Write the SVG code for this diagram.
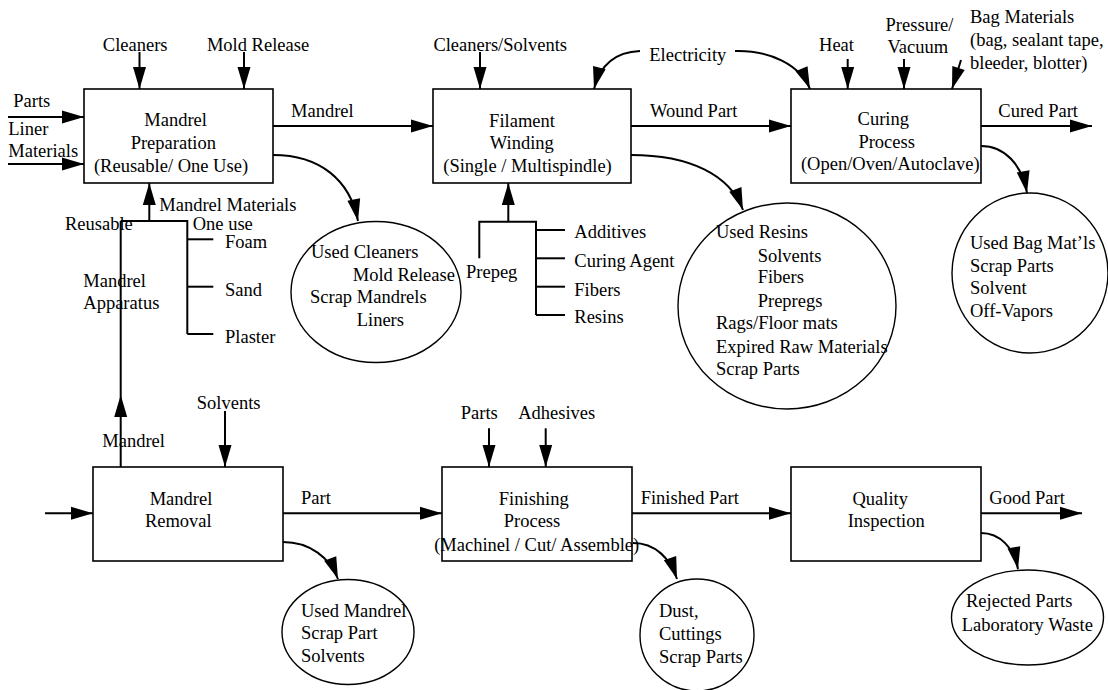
<svg xmlns="http://www.w3.org/2000/svg" width="1108" height="690" viewBox="0 0 1108 690">
<style>
text{font-family:"Liberation Serif","Times New Roman",serif;font-size:18.5px;fill:#000}
.c{text-anchor:middle}
.box{fill:#fff;stroke:#000;stroke-width:1.6}
.ell{fill:#fff;stroke:#000;stroke-width:1.4}
.ln{fill:none;stroke:#000;stroke-width:2}
.ar{fill:none;stroke:#000;stroke-width:2;marker-end:url(#ah)}
</style>
<defs>
<marker id="ah" markerUnits="userSpaceOnUse" markerWidth="22" markerHeight="13" refX="22" refY="6.5" orient="auto" overflow="visible">
<path d="M0,0 L22,6.5 L0,13 Z" fill="#000"/>
</marker>
</defs>
<rect width="1108" height="690" fill="#fff"/>

<g id="connectors">
<!-- Mandrel Preparation inputs -->
<line class="ar" x1="139.5" y1="52" x2="139.5" y2="89"/>
<line class="ar" x1="244" y1="52" x2="244" y2="89"/>
<line class="ar" x1="8" y1="117" x2="84" y2="117"/>
<line class="ar" x1="8" y1="164" x2="84" y2="164"/>
<line class="ar" x1="273" y1="126" x2="433" y2="126"/>
<path class="ar" d="M273,155 C320,155 350,180 358,221"/>
<!-- Mandrel materials tree -->
<line class="ar" x1="149.3" y1="221" x2="149.3" y2="183"/>
<polyline class="ln" points="120.7,221 187.3,221 187.3,334"/>
<line class="ln" x1="187.3" y1="239.3" x2="213.3" y2="239.3"/>
<line class="ln" x1="187.3" y1="286.7" x2="213.3" y2="286.7"/>
<line class="ln" x1="187.3" y1="334" x2="213.3" y2="334"/>
<line class="ln" x1="120.7" y1="221" x2="120.7" y2="395"/>
<line class="ar" x1="120.7" y1="467" x2="120.7" y2="395"/>
<!-- Filament Winding -->
<line class="ar" x1="480" y1="52" x2="480" y2="89"/>
<path class="ar" d="M640,51 C615,52 600,65 594,89"/>
<path class="ar" d="M735,51 C770,50 800,65 810,89"/>
<line class="ar" x1="631" y1="126" x2="791" y2="126"/>
<path class="ar" d="M631,155 C690,155 730,175 743,210"/>
<line class="ar" x1="508.3" y1="221.7" x2="508.3" y2="183"/>
<polyline class="ln" points="479.3,258.3 479.3,221.7 536,221.7 536,315"/>
<line class="ln" x1="536" y1="230" x2="565" y2="230"/>
<line class="ln" x1="536" y1="258.3" x2="565" y2="258.3"/>
<line class="ln" x1="536" y1="286.7" x2="565" y2="286.7"/>
<line class="ln" x1="536" y1="315" x2="565" y2="315"/>
<!-- Curing -->
<line class="ar" x1="847.7" y1="59" x2="847.7" y2="89"/>
<line class="ar" x1="904" y1="59" x2="904" y2="89"/>
<line class="ar" x1="961" y1="60" x2="952" y2="89"/>
<line class="ar" x1="981" y1="126" x2="1092" y2="126"/>
<path class="ar" d="M981,146 C1005,146 1022,165 1027,193"/>
<!-- Mandrel Removal -->
<line class="ar" x1="45" y1="513.3" x2="93" y2="513.3"/>
<line class="ar" x1="225" y1="411" x2="225" y2="467"/>
<line class="ar" x1="283" y1="513.3" x2="442" y2="513.3"/>
<path class="ar" d="M283,542 C310,542 330,558 338,579"/>
<!-- Finishing -->
<line class="ar" x1="489" y1="428.3" x2="489" y2="467"/>
<line class="ar" x1="545.7" y1="428.3" x2="545.7" y2="467"/>
<line class="ar" x1="632" y1="513.3" x2="791" y2="513.3"/>
<path class="ar" d="M633,543 C655,543 670,558 677,579"/>
<!-- Quality -->
<line class="ar" x1="981" y1="513.3" x2="1082" y2="513.3"/>
<path class="ar" d="M981,533 C1000,533 1014,548 1018,569"/>
</g>

<g id="labels">
<text class="c" x="135.2" y="50.7">Cleaners</text>
<text class="c" x="258" y="50.7">Mold Release</text>
<text x="13.3" y="106.7">Parts</text>
<text x="8.3" y="135">Liner</text>
<text x="8.3" y="156.7">Materials</text>
<text x="291" y="116.7">Mandrel</text>
<text x="159.3" y="210.7">Mandrel Materials</text>
<text x="65" y="230">Reusable</text>
<text x="192.7" y="230">One use</text>
<text x="225" y="248.3">Foam</text>
<text x="225" y="296">Sand</text>
<text x="225" y="343.3">Plaster</text>
<text x="83.3" y="286.7">Mandrel</text>
<text x="83.3" y="309.3">Apparatus</text>
<text class="c" x="500.2" y="50.7">Cleaners/Solvents</text>
<text x="649.3" y="61">Electricity</text>
<text x="650" y="116.7">Wound Part</text>
<text x="466" y="277.7">Prepeg</text>
<text x="574.3" y="238.3">Additives</text>
<text x="574.3" y="267.3">Curing Agent</text>
<text x="574.3" y="296">Fibers</text>
<text x="574.3" y="323.3">Resins</text>
<text class="c" x="836.5" y="50.7">Heat</text>
<text class="c" x="919.5" y="30.7">Pressure/</text>
<text class="c" x="917.8" y="53">Vacuum</text>
<text x="970" y="22.5">Bag Materials</text>
<text x="970" y="45.5">(bag, sealant tape,</text>
<text x="970" y="68.5">bleeder, blotter)</text>
<text x="998.3" y="116.7">Cured Part</text>
<text x="102.3" y="447.3">Mandrel</text>
<text class="c" x="228.7" y="409.3">Solvents</text>
<text x="301" y="504">Part</text>
<text class="c" x="479.3" y="419.3">Parts</text>
<text class="c" x="556.7" y="419.3">Adhesives</text>
<text x="640.7" y="504">Finished Part</text>
<text x="989.3" y="504">Good Part</text>
</g>

<g id="mandrel-preparation">
<rect class="box" x="84" y="89" width="189" height="94"/>
<text class="c" x="175.6" y="126">Mandrel</text>
<text class="c" x="173.3" y="149">Preparation</text>
<text class="c" x="171" y="172">(Reusable/ One Use)</text>
</g>
<g id="filament-winding">
<rect class="box" x="433" y="89" width="198" height="94"/>
<text class="c" x="522" y="126.5">Filament</text>
<text class="c" x="521.8" y="149">Winding</text>
<text class="c" x="527.5" y="171.5">(Single / Multispindle)</text>
</g>
<g id="curing-process">
<rect class="box" x="791" y="89" width="190" height="94"/>
<text class="c" x="883.3" y="125">Curing</text>
<text class="c" x="886.7" y="147.5">Process</text>
<text class="c" x="890.3" y="170">(Open/Oven/Autoclave)</text>
</g>
<g id="mandrel-removal">
<rect class="box" x="93" y="467" width="190" height="94"/>
<text class="c" x="181" y="505">Mandrel</text>
<text class="c" x="178.3" y="526.7">Removal</text>
</g>
<g id="finishing-process">
<rect class="box" x="442" y="467" width="190" height="94"/>
<text class="c" x="533.8" y="505">Finishing</text>
<text class="c" x="532" y="527">Process</text>
<text class="c" x="536.7" y="550.5">(Machinel / Cut/ Assemble)</text>
</g>
<g id="quality-inspection">
<rect class="box" x="791" y="467" width="190" height="94"/>
<text class="c" x="880.2" y="505">Quality</text>
<text class="c" x="886.2" y="527">Inspection</text>
</g>

<g id="waste-prep">
<ellipse class="ell" cx="376" cy="292" rx="85" ry="70.5"/>
<text x="311" y="258.3">Used Cleaners</text>
<text x="352.7" y="280.7">Mold Release</text>
<text x="310" y="303.3">Scrap Mandrels</text>
<text x="356.7" y="326">Liners</text>
</g>
<g id="waste-winding">
<ellipse class="ell" cx="787" cy="306" rx="109" ry="103"/>
<text x="716" y="238.3">Used Resins</text>
<text x="757.7" y="261.7">Solvents</text>
<text x="757.7" y="283.3">Fibers</text>
<text x="757.7" y="306.7">Prepregs</text>
<text x="716" y="329.3">Rags/Floor mats</text>
<text x="716" y="352.7">Expired Raw Materials</text>
<text x="716" y="375">Scrap Parts</text>
</g>
<g id="waste-curing">
<ellipse class="ell" cx="1030" cy="273" rx="78" ry="80"/>
<text x="970" y="249.3">Used Bag Mat’ls</text>
<text x="970" y="271.7">Scrap Parts</text>
<text x="970" y="294">Solvent</text>
<text x="970" y="316.7">Off-Vapors</text>
</g>
<g id="waste-removal">
<ellipse class="ell" cx="348" cy="632" rx="66" ry="52.5"/>
<text x="301" y="616.7">Used Mandrel</text>
<text x="301" y="639.3">Scrap Part</text>
<text x="301" y="661.7">Solvents</text>
</g>
<g id="waste-finishing">
<ellipse class="ell" cx="697" cy="635" rx="57" ry="56"/>
<text x="659" y="617.3">Dust,</text>
<text x="659" y="640">Cuttings</text>
<text x="659" y="662.7">Scrap Parts</text>
</g>
<g id="waste-quality">
<ellipse class="ell" cx="1027.5" cy="617.5" rx="76" ry="47.5"/>
<text x="966" y="607.3">Rejected Parts</text>
<text x="961.7" y="630.7">Laboratory Waste</text>
</g>
</svg>
